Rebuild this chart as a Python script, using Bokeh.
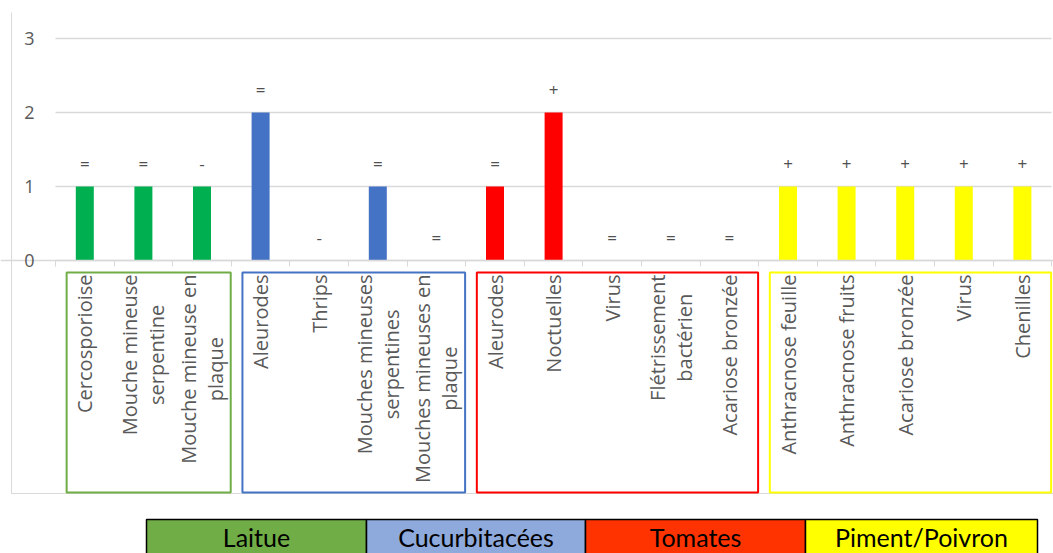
import math
from bokeh.plotting import figure
from bokeh.models import Range1d, LinearAxis, FixedTicker, Grid, ColumnDataSource
from bokeh.core.properties import value
from bokeh.embed import file_html
from bokeh.resources import INLINE

# ---- data ----
categories = ["Cercosporioise", "Mouche mineuse\nserpentine", "Mouche mineuse en\nplaque",
              "Aleurodes", "Thrips", "Mouches mineuses\nserpentines", "Mouches mineuses en\nplaque",
              "Aleurodes", "Noctuelles", "Virus", "Flétrissement\nbactérien", "Acariose bronzée",
              "Anthracnose feuille", "Anthracnose fruits", "Acariose bronzée", "Virus", "Chenilles"]
values = [1, 1, 1, 2, 0, 1, 0, 1, 2, 0, 0, 0, 1, 1, 1, 1, 1]
trends = ["=", "=", "-", "=", "-", "=", "=", "=", "+", "=", "=", "=", "+", "+", "+", "+", "+"]
groups = ["Laitue", "Cucurbitacées", "Tomates", "Piment/Poivron"]
group_sizes = [3, 4, 5, 5]
y_ticks = [0, 1, 2, 3]

bar_colors = ["#00B050", "#4472C4", "#FF0000", "#FFFF00"]
box_colors = ["#70AD47", "#4472C4", "#FF0000", "#FFFF00"]
legend_fill = ["#70AD47", "#8EA9DB", "#FF3300", "#FFFF00"]

# ---- pixel mapping of the layout ----
W, H = 1053, 553
x0_px, cat_px = 55.0, 58.6
y0_px, unit_px = 260.0, 74.0
def xd(px): return (px - x0_px) / cat_px
def yd(py): return (y0_px - py) / unit_px

p = figure(width=W, height=H, output_backend="svg", toolbar_location=None,
           x_range=Range1d(xd(0), xd(W)), y_range=Range1d(yd(H), yd(0)),
           x_axis_location=None, y_axis_location=None, min_border=0,
           outline_line_color=None)
p.xgrid.visible = False
p.ygrid.visible = False

n = len(categories)
gidx = []
for g, s in enumerate(group_sizes):
    gidx += [g] * s
xs = [i + 0.5 for i in range(n)]

# chart area border
p.segment(x0=[xd(11), xd(11)], y0=[yd(12), yd(493)], x1=[xd(11), xd(W)], y1=[yd(493), yd(493)],
          line_color="#D9D9D9", line_width=1)

# grid
grid = Grid(dimension=1, ticker=FixedTicker(ticks=y_ticks), grid_line_color="#D9D9D9",
            grid_line_width=1.5, cross_bounds=(0, n))
p.add_layout(grid)

# bars
src = ColumnDataSource(dict(x=xs, top=values, color=[bar_colors[g] for g in gidx], t=trends))
p.vbar(x="x", top="top", bottom=0, width=18 / cat_px, fill_color="color", line_color=None, source=src)
p.text(x="x", y="top", text="t", source=src, y_offset=-23, text_align="center",
       text_baseline="middle", text_font=value("Open Sans"), text_font_size="17px", text_color="#505050")

# y axis
yax = LinearAxis(fixed_location=0, ticker=FixedTicker(ticks=y_ticks))
yax.axis_line_color = None
yax.major_tick_line_color = None
yax.minor_tick_line_color = None
yax.major_label_standoff = 15
yax.major_label_text_font = "Open Sans"
yax.major_label_text_font_size = "18px"
yax.major_label_text_color = "#595959"
p.add_layout(yax, "left")

# x axis (baseline + tick marks at category boundaries)
xax = LinearAxis(fixed_location=0, ticker=FixedTicker(ticks=list(range(n + 1))))
xax.axis_line_color = "#D9D9D9"
xax.axis_line_width = 1.5
xax.major_tick_line_color = "#D9D9D9"
xax.major_tick_in = 0
xax.major_tick_out = 6
xax.minor_tick_line_color = None
xax.major_label_text_font_size = "0px"
xax.major_label_overrides = {i: "" for i in range(n + 1)}
p.add_layout(xax, "below")

# category labels
p.text(x=xs, y=[yd(274)] * n, text=categories, angle=math.pi / 2, anchor="center_right",
       text_align="center", text_baseline="middle", text_font=value("Open Sans"),
       text_font_size="20px", text_color="#595959", text_line_height=1.0)

# group boxes
starts, ends = [], []
c = 0
for s in group_sizes:
    starts.append(c + 0.19)
    ends.append(c + s - 0.01)
    c += s
p.quad(left=starts, right=ends, top=[yd(272)] * 4, bottom=[yd(492)] * 4,
       fill_color=None, line_color=box_colors, line_width=2)

# legend table
cell_edges = [xd(146), xd(366), xd(585), xd(805), xd(1037)]
p.quad(left=cell_edges[:-1], right=cell_edges[1:], top=[yd(519)] * 4, bottom=[yd(560)] * 4,
       fill_color=legend_fill, line_color="black", line_width=1.5)
p.text(x=[(a + b) / 2 for a, b in zip(cell_edges[:-1], cell_edges[1:])], y=[yd(536)] * 4,
       text=groups, text_align="center", text_baseline="middle",
       text_font=value("Lato"), text_font_size="25px", text_color="black")

open("out.html", "w").write(file_html(p, INLINE))
